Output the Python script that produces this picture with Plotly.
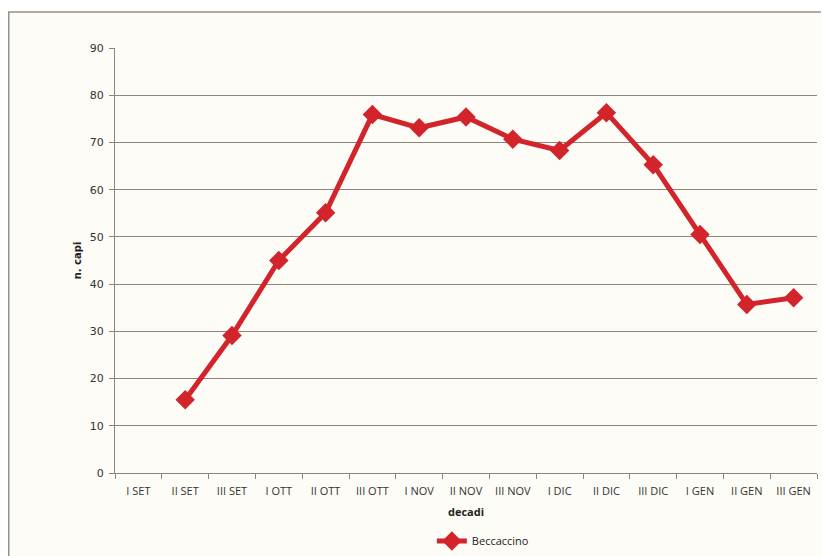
import plotly.graph_objects as go

categories = ["I SET", "II SET", "III SET", "I OTT", "II OTT", "III OTT", "I NOV", "II NOV",
              "III NOV", "I DIC", "II DIC", "III DIC", "I GEN", "II GEN", "III GEN"]
beccaccino = [None, 15.5, 29.1, 45.0, 55.1, 75.9, 73.1, 75.4, 70.7, 68.3, 76.3, 65.3, 50.5, 35.7, 37.1]

# the page body has an 8px margin, so the figure is drawn 8px right/down
W, H = 821, 548
L, R, T, B = 107, 12, 40, 83
pw = W - L - R
ph = H - T - B

fig = go.Figure()
fig.add_trace(go.Scatter(
    x=categories, y=beccaccino, mode="lines+markers", name="Beccaccino",
    line=dict(color="#d3242c", width=5),
    marker=dict(symbol="diamond", size=15, color="#d3242c"),
    connectgaps=False,
))

grid = "#8e847c"
cream = "#fdfcf6"
fig.update_layout(
    width=W, height=H,
    margin=dict(l=L, r=R, t=T, b=B, autoexpand=False),
    paper_bgcolor="#ffffff", plot_bgcolor=cream,
    showlegend=True,
    legend=dict(orientation="h", x=0.524, xanchor="center", y=-(541 - 473) / ph, yanchor="middle",
                bgcolor="rgba(0,0,0,0)",
                font=dict(family="Open Sans, sans-serif", size=11, color="#222")),
    xaxis=dict(type="category", range=[-0.5, 14.5], tickson="boundaries", automargin=False,
               ticks="outside", ticklen=5, tickcolor=grid, showline=True, linecolor=grid,
               ticklabelstandoff=8,
               showgrid=False, tickfont=dict(family="Open Sans, sans-serif", size=11, color="#333"),
               title=dict(text="<b>decadi</b>", font=dict(family="Open Sans, sans-serif", size=11, color="#222"), standoff=11)),
    yaxis=dict(range=[0, 90], dtick=10, ticks="outside", ticklen=5, tickcolor=grid, automargin=False,
               showline=True, linecolor=grid, showgrid=True, gridcolor=grid, gridwidth=1,
               zeroline=False, ticklabelstandoff=3,
               tickfont=dict(family="DejaVu Sans, sans-serif", size=11, color="#333"),
               title=dict(text="<b>n. capi</b>", font=dict(family="DejaVu Sans, sans-serif", size=10, color="#222"), standoff=6)),
)

fig.add_shape(type="rect", xref="paper", yref="paper",
              x0=(0.75 - L) / pw, x1=(W + 20 - L) / pw,
              y0=-(H + 20 - T - ph) / ph, y1=(ph + T - 4) / ph,
              line=dict(color="#9a8e86", width=1.5), fillcolor=cream, layer="below")

fig.write_html("out.html")
